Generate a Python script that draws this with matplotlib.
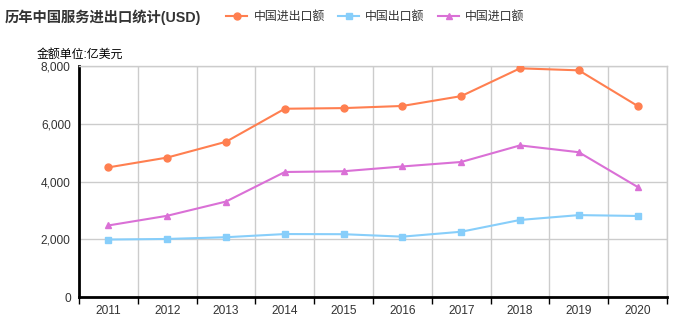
import numpy as np
import matplotlib.pyplot as plt
from matplotlib.ticker import FuncFormatter, FixedLocator

plt.rcParams['font.family'] = ['Liberation Sans', 'Noto Sans CJK SC', 'DejaVu Sans']

# 数据 (亿美元)
years = ['2011', '2012', '2013', '2014', '2015', '2016', '2017', '2018', '2019', '2020']
total = [4489, 4829, 5376, 6520, 6542, 6616, 6957, 7919, 7850, 6617]
exports = [1990, 2010, 2070, 2180, 2175, 2090, 2260, 2668, 2836, 2806]
imports = [2478, 2813, 3306, 4329, 4355, 4521, 4676, 5250, 5014, 3811]

names = ['中国进出口额', '中国出口额', '中国进口额']
colors = ['#FF7F50', '#87CEFA', '#DA70D6']
markers = ['o', 's', '^']

fig = plt.figure(figsize=(6.88, 3.29), dpi=100)
ax = fig.add_axes([79 / 688, 32 / 329, 588 / 688, 231 / 329])

x = np.arange(len(years))
for vals, name, c, m in zip([total, exports, imports], names, colors, markers):
    ax.plot(x, vals, color=c, lw=1.5, marker=m, markersize=5, label=name, zorder=3)

ax.set_xlim(-0.5, len(years) - 0.5)
ax.set_ylim(0, 8000)

# x轴: 刻度在类目边界, 标签在中间
ax.set_xticks(x)
ax.set_xticklabels(years)
ax.xaxis.set_minor_locator(FixedLocator(np.arange(-0.5, len(years), 1)))
ax.tick_params(axis='x', which='major', length=0, pad=6, labelsize=8.6, colors='#333333')
ax.tick_params(axis='x', which='minor', length=5, width=1, color='#000000')
ax.grid(True, axis='x', which='minor', color='#cccccc', lw=1)

ax.set_yticks([0, 2000, 4000, 6000, 8000])
ax.yaxis.set_major_formatter(FuncFormatter(lambda v, p: f'{int(v):,}'))
ax.tick_params(axis='y', length=0, pad=6, labelsize=8.6, colors='#333333')
ax.grid(True, axis='y', which='major', color='#cccccc', lw=1)
ax.set_axisbelow(True)

ax.spines['left'].set_linewidth(2)
ax.spines['bottom'].set_linewidth(2)
for s in ['top', 'right']:
    ax.spines[s].set_color('#cccccc')
    ax.spines[s].set_linewidth(1)

fig.text(5 / 688, 1 - 17 / 329, '历年中国服务进出口统计(USD)', fontsize=10.3,
         fontweight='bold', color='#333333', va='center', ha='left')
fig.text(37 / 688, 1 - 55 / 329, '金额单位:亿美元', fontsize=8.6,
         color='#000000', va='center', ha='left')

fig.legend(loc='center left', bbox_to_anchor=(226 / 688, 1 - 17 / 329), ncol=3,
           frameon=False, fontsize=8.6, handlelength=1.8, handletextpad=0.5,
           columnspacing=1.1, labelcolor='#333333', borderaxespad=0, borderpad=0)

fig.savefig('out.png', dpi=100)
